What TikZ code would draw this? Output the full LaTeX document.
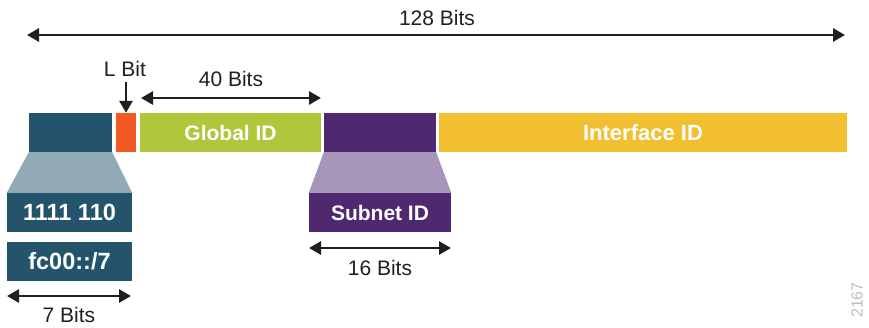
\documentclass[tikz,border=0pt]{standalone}
\usepackage{fontspec}
\setmainfont{Liberation Sans}
\usetikzlibrary{arrows.meta}
\definecolor{ink}{HTML}{231F20}
\definecolor{prefixteal}{HTML}{24546B}
\definecolor{paleteal}{HTML}{91AAB6}
\definecolor{lbitorange}{HTML}{F15A24}
\definecolor{globalgreen}{HTML}{AFC73A}
\definecolor{subnetpurple}{HTML}{4F2970}
\definecolor{palepurple}{HTML}{A895BA}
\definecolor{ifaceyellow}{HTML}{F1BF2F}
\begin{document}
\begin{tikzpicture}[x=1pt, y=-1pt,
        seg/.style={inner sep=0, minimum height=39pt, text=white,
            font=\fontsize{21}{24}\selectfont\bfseries},
        bigseg/.style={seg, font=\fontsize{23.5}{26}\selectfont\bfseries},
        dimline/.style={line width=2.8pt, draw=ink, {Triangle[length=12pt, width=13pt]}-{Triangle[length=12pt, width=13pt]}},
        dimtext/.style={text=ink, font=\fontsize{21}{24}\selectfont}]
        \useasboundingbox [fill=white] (0, 0) rectangle (869, 327);
        \node [seg, fill=prefixteal, minimum width=83pt] (prefix) at (70.5, 132.5) {};
        \node [seg, fill=lbitorange, minimum width=20pt] (lbit) at (126, 132.5) {};
        \node [seg, fill=globalgreen, minimum width=181pt] (global) at (230.5, 132.5) {Global ID};
        \node [seg, fill=subnetpurple, minimum width=112pt] (subnet) at (380, 132.5) {};
        \node [seg, fill=ifaceyellow, minimum width=408pt, font=\fontsize{22}{25}\selectfont\bfseries] (iface) at (643, 132.5) {Interface ID};
        \node [bigseg, fill=prefixteal, minimum width=125pt] (bits) at (69.5, 212.5) {1111 110};
        \node [bigseg, fill=prefixteal, minimum width=125pt] (fc) at (69.5, 261.5) {fc00::/7};
        \node [seg, fill=subnetpurple, minimum width=142pt] (subid) at (380, 212.5) {Subnet ID};
        \fill [paleteal]
            (prefix.south west) -- (prefix.south east) -- (bits.north east) -- (bits.north west) -- cycle;
        \fill [palepurple]
            (subnet.south west) -- (subnet.south east) -- (subid.north east) -- (subid.north west) -- cycle;
        \coordinate (all-l) at (27, 35);
        \coordinate (all-r) at (845, 35);
        \coordinate (gid-l) at (141, 98);
        \coordinate (gid-r) at (321, 98);
        \coordinate (lbit-top) at (126, 82);
        \coordinate (seven-l) at (7, 296);
        \coordinate (seven-r) at (131, 296);
        \coordinate (sixteen-l) at (309, 248);
        \coordinate (sixteen-r) at (451, 248);
        \draw [dimline] (all-l) -- (all-r);
        \draw [dimline] (gid-l) -- (gid-r);
        \draw [dimline] (seven-l) -- (seven-r);
        \draw [dimline] (sixteen-l) -- (sixteen-r);
        \draw [line width=2.8pt, draw=ink, -{Triangle[length=12pt, width=13pt]}] (lbit-top) -- (lbit.north);
        \node [dimtext] (t128) at (437, 18) {128 Bits};
        \node [dimtext] (tlbit) at (125, 69) {L Bit};
        \node [dimtext] (t40) at (231, 79) {40 Bits};
        \node [dimtext] (t7) at (69, 315) {7 Bits};
        \node [dimtext] (t16) at (380, 268) {16 Bits};
        \node [text=black!25, font=\fontsize{16}{18}\selectfont, rotate=90] (fig) at (857, 300) {2167};
    \end{tikzpicture}
\end{document}
